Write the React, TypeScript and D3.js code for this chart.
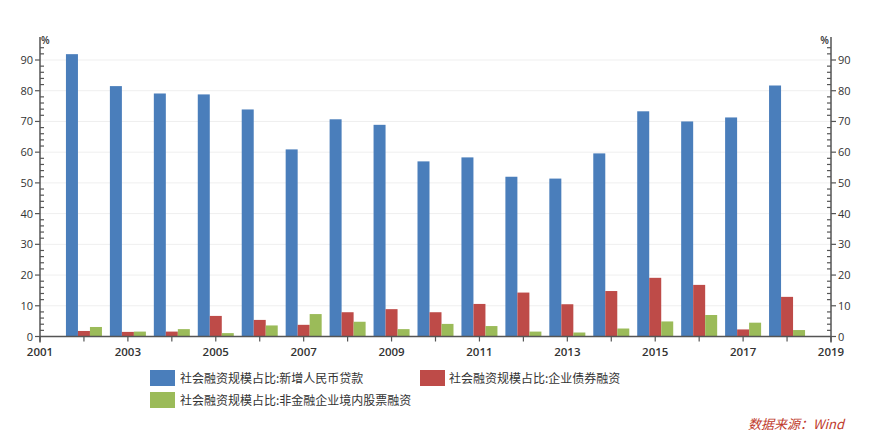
import React from "react";
import * as d3 from "d3";

const years = [2002, 2003, 2004, 2005, 2006, 2007, 2008, 2009, 2010, 2011, 2012, 2013, 2014, 2015, 2016, 2017, 2018];
const loans = [91.9, 81.5, 79.1, 78.8, 73.9, 60.9, 70.7, 68.9, 57.0, 58.3, 52.0, 51.4, 59.6, 73.3, 70.0, 71.3, 81.7];
const bonds = [1.8, 1.5, 1.6, 6.7, 5.4, 3.8, 7.9, 8.9, 7.9, 10.6, 14.3, 10.5, 14.8, 19.1, 16.8, 2.3, 12.9];
const equity = [3.1, 1.6, 2.4, 1.1, 3.6, 7.3, 4.8, 2.4, 4.1, 3.4, 1.6, 1.3, 2.6, 4.9, 7.0, 4.5, 2.1];
const seriesNames = ["社会融资规模占比:新增人民币贷款", "社会融资规模占比:企业债券融资", "社会融资规模占比:非金融企业境内股票融资"];
const xTickLabels = [2001, 2003, 2005, 2007, 2009, 2011, 2013, 2015, 2017, 2019];
const yTickLabels = [0, 10, 20, 30, 40, 50, 60, 70, 80, 90];

const colors = ["#4A7EBB", "#BE4B48", "#9BBB59"];

export default function App() {
  const W = 872, H = 437;
  const x = d3.scaleLinear().domain([2001, 2019]).range([40, 831]);
  const y = d3.scaleLinear().domain([0, 90]).range([336.5, 60]);
  const bw = 12;
  const series = [loans, bonds, equity];
  const minor = d3.range(0, 96, 2).filter((v) => v % 10 !== 0);
  const allYears = d3.range(2001, 2020);
  const axisColor = "#555";
  const numFont = "'Open Sans', 'DejaVu Sans', sans-serif";
  const cjk = "'Noto Sans CJK SC', sans-serif";
  return (
    <svg width={W} height={H} style={{ position: "absolute", left: 0, top: 0, background: "#fff" }}>
      {/* grid */}
      {yTickLabels.slice(1).map((v) => (
        <line key={"g" + v} x1={40} x2={831} y1={y(v)} y2={y(v)} stroke="#efefef" strokeWidth={1} />
      ))}
      {/* bars */}
      {series.map((vals, si) =>
        vals.map((v, i) => (
          <rect
            key={si + "-" + i}
            x={x(years[i]) - 18 + si * bw}
            y={y(v)}
            width={bw}
            height={y(0) - y(v)}
            fill={colors[si]}
          />
        ))
      )}
      {/* x axis */}
      <line x1={40} x2={831} y1={y(0)} y2={y(0)} stroke={axisColor} strokeWidth={1.5} />
      {allYears.map((yr) => (
        <line key={"xt" + yr} x1={x(yr)} x2={x(yr)} y1={y(0)} y2={y(0) + 5} stroke={axisColor} strokeWidth={1.2} />
      ))}
      {xTickLabels.map((yr) => (
        <text key={"xl" + yr} x={x(yr)} y={356} textAnchor="middle" fontSize={11.5} fontWeight={600} fill="#333" fontFamily={numFont}>
          {yr}
        </text>
      ))}
      {/* left axis */}
      <line x1={40} x2={40} y1={y(0) + 6} y2={37} stroke={axisColor} strokeWidth={1.5} />
      {yTickLabels.map((v) => (
        <g key={"yl" + v}>
          <line x1={35} x2={40} y1={y(v)} y2={y(v)} stroke={axisColor} strokeWidth={1.2} />
          <text x={33} y={y(v) + 4} textAnchor="end" fontSize={11} fill="#333" fontFamily={numFont}>
            {v}
          </text>
          <line x1={831} x2={836} y1={y(v)} y2={y(v)} stroke={axisColor} strokeWidth={1.2} />
          <text x={838} y={y(v) + 4} textAnchor="start" fontSize={11} fill="#333" fontFamily={numFont}>
            {v}
          </text>
        </g>
      ))}
      {minor.map((v) => (
        <g key={"mn" + v}>
          <line x1={40} x2={44} y1={y(v)} y2={y(v)} stroke={axisColor} strokeWidth={1.2} />
          <line x1={827} x2={831} y1={y(v)} y2={y(v)} stroke={axisColor} strokeWidth={1.2} />
        </g>
      ))}
      {/* right axis */}
      <line x1={831} x2={831} y1={y(0) + 6} y2={37} stroke={axisColor} strokeWidth={1.5} />
      <text x={41} y={44} fontSize={10} fontWeight={600} fill="#333" fontFamily={numFont}>%</text>
      <text x={829} y={44} textAnchor="end" fontSize={10} fontWeight={600} fill="#333" fontFamily={numFont}>%</text>
      {/* legend */}
      <rect x={150} y={370} width={25} height={16} fill={colors[0]} />
      <text x={180} y={383} fontSize={12} fill="#333" fontFamily={cjk}>{seriesNames[0]}</text>
      <rect x={420} y={370} width={25} height={16} fill={colors[1]} />
      <text x={449} y={383} fontSize={12} fill="#333" fontFamily={cjk}>{seriesNames[1]}</text>
      <rect x={150} y={392} width={25} height={16} fill={colors[2]} />
      <text x={180} y={405} fontSize={12} fill="#333" fontFamily={cjk}>{seriesNames[2]}</text>
      {/* source */}
      <text x={748} y={429} fontSize={13} fontStyle="italic" fill="#C0392B" fontFamily={cjk}>数据来源：Wind</text>
    </svg>
  );
}
